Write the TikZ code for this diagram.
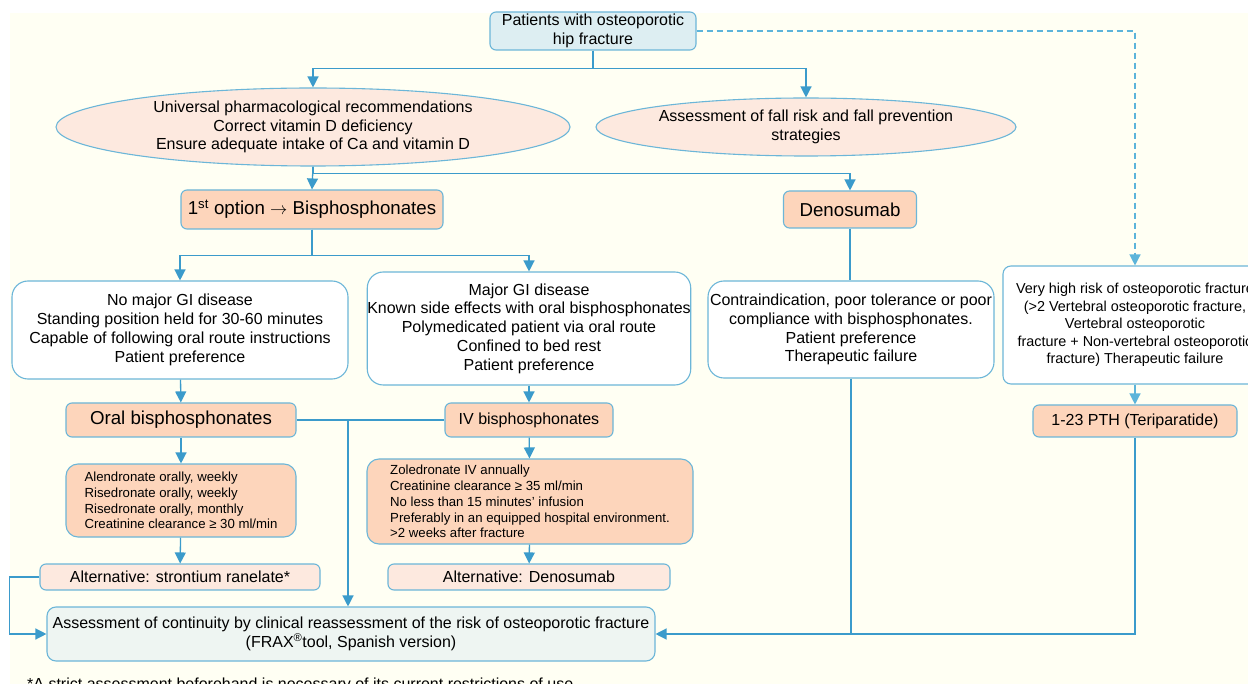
\documentclass[tikz,border=0pt]{standalone}
\usepackage{fontspec}
\setmainfont{Liberation Sans}
\usepackage{amsmath}
\usetikzlibrary{shapes.geometric,arrows.meta}

\definecolor{linkblue}{HTML}{3B9BCB}
\definecolor{edgeblue}{HTML}{6CB6D8}
\definecolor{dashblue}{HTML}{5CB4DA}
\definecolor{peach}{HTML}{FDD5BB}
\definecolor{lightpeach}{HTML}{FDE9DF}
\definecolor{paleblue}{HTML}{DDEEF2}
\definecolor{palegrey}{HTML}{EEF5F2}
\definecolor{cream}{HTML}{FFFFF3}

\newcommand{\fsnorm}{\fontsize{16}{18.8}\selectfont}
\newcommand{\fsvhr}{\fontsize{14.4}{17.5}\selectfont}
\newcommand{\fsbig}{\fontsize{18.7}{22}\selectfont}
\newcommand{\fssmall}{\fontsize{13.2}{15.8}\selectfont}

\begin{document}
\begin{tikzpicture}[x=1pt,y=-1pt,
	box/.style={draw=edgeblue,line width=1.1pt,rounded corners=6pt,align=center,inner sep=0pt,font=\fsnorm},
	condbox/.style={box,fill=white,rounded corners=16pt},
	drugbox/.style={box,fill=peach},
	altbox/.style={box,fill=lightpeach},
	oval/.style={box,shape=ellipse,fill=lightpeach},
	flow/.style={draw=linkblue,line width=1.3pt,-{Triangle[length=11pt,width=11pt]}},
	link/.style={draw=linkblue,line width=1.3pt}]

	\useasboundingbox (0,0) rectangle (1248,684);
	\fill[cream] (10,13) rectangle (1248,684);

	\node[box,fill=paleblue,minimum width=206,minimum height=38] (top) at (593, 31) {Patients with osteoporotic\\hip fracture};

	\node[oval,minimum width=514,minimum height=78] (ell1) at (313, 127) {Universal pharmacological recommendations\\Correct vitamin D deficiency\\Ensure adequate intake of Ca and vitamin D};
	\node[oval,minimum width=420,minimum height=58] (ell2) at (806, 127) {Assessment of fall risk and fall prevention\\strategies};

	\node[drugbox,font=\fsbig,minimum width=262,minimum height=39] (opt1) at (312, 209.5) {1\textsuperscript{st} option $\rightarrow$ Bisphosphonates};
	\node[drugbox,font=\fsbig,minimum width=133,minimum height=37] (deno) at (850, 209.5) {Denosumab};

	\node[condbox,minimum width=336,minimum height=98] (nogi) at (180, 330) {No major GI disease\\Standing position held for 30-60 minutes\\Capable of following oral route instructions\\Patient preference};
	\node[condbox,minimum width=321,minimum height=113] (gi) at (529, 328.5) {Major GI disease\\Known side effects with oral bisphosphonates\\Polymedicated patient via oral route\\Confined to bed rest\\Patient preference};
	\node[condbox,minimum width=286,minimum height=97] (contra) at (851, 329.5) {Contraindication, poor tolerance or poor\\compliance with bisphosphonates.\\Patient preference\\Therapeutic failure};
	\node[box,fill=white,rounded corners=8pt,font=\fsvhr,minimum width=264,minimum height=118] (vhr) at (1135, 325) {Very high risk of osteoporotic fracture\\(>2 Vertebral osteoporotic fracture,\\Vertebral osteoporotic\\fracture + Non-vertebral osteoporotic\\fracture) Therapeutic failure};
	\node[drugbox,minimum width=204,minimum height=32] (pth) at (1135, 421) {1-23 PTH (Teriparatide)};

	\node[drugbox,font=\fsbig,minimum width=230,minimum height=34] (oral) at (181, 420) {Oral bisphosphonates};
	\node[drugbox,minimum width=168,minimum height=34] (iv) at (529, 420) {IV bisphosphonates};

	\node[drugbox,font=\fssmall,align=left,rounded corners=12pt,minimum width=230,minimum height=73] (alen) at (181, 500.5) {Alendronate orally, weekly\\Risedronate orally, weekly\\Risedronate orally, monthly\\Creatinine clearance ≥ 30 ml/min};
	\node[drugbox,font=\fssmall,align=left,rounded corners=12pt,minimum width=326,minimum height=85] (zol) at (530, 501.5) {Zoledronate IV annually\\Creatinine clearance ≥ 35 ml/min\\No less than 15 minutes’ infusion\\Preferably in an equipped hospital environment.\\>2 weeks after fracture};

	\node[altbox,minimum width=280,minimum height=26] (stron) at (180, 577) {Alternative: strontium ranelate*};
	\node[altbox,minimum width=282,minimum height=26] (altd) at (529, 577) {Alternative: Denosumab};

	\node[box,fill=palegrey,rounded corners=9pt,minimum width=608,minimum height=54] (assess) at (351, 634) {Assessment of continuity by clinical reassessment of the risk of osteoporotic fracture\\(FRAX\textsuperscript{®}tool, Spanish version)};

	\node[font=\fsnorm,anchor=base west,inner sep=0pt] (note) at (27, 689) {*A strict assessment beforehand is necessary of its current restrictions of use.};

	% top of the chart
	\draw[flow] (top.south) -- ++(0,18) -| (ell1.north);
	\draw[flow] (top.south) -- ++(0,18) -| (ell2.north);
	\draw[flow,draw=dashblue,dash pattern=on 6pt off 4pt] (top.east) -| (vhr.north);
	\draw[flow] (ell1.south) -- (opt1.north);
	\draw[flow] (ell1.south) -- ++(0,7) -| (deno.north);

	% bisphosphonates branch
	\draw[flow] (opt1.south) -- ++(0,26) -| (nogi.north);
	\draw[flow] (opt1.south) -- ++(0,26) -| (gi.north);
	\draw[flow] (nogi) -- (oral);
	\draw[flow] (gi) -- (iv);
	\draw[flow] (oral) -- (alen);
	\draw[flow] (alen) -- (stron);
	\draw[flow] (iv) -- (zol);
	\draw[flow] (zol) -- (altd);
	\draw[link] (oral.east) -- (iv.west);
	\coordinate (tee) at (348, 420);
	\draw[flow] (tee) -- (tee |- assess.north);
	\draw[flow] (stron.west) -- ++(-30,0) |- (assess.west);

	% denosumab and PTH
	\draw[link] (deno.south) -- (deno.south |- contra.north);
	\draw[flow] (contra.south) |- (assess.east);
	\draw[flow,draw=dashblue] (vhr) -- (pth);
	\draw[link] (pth.south) |- (contra.south |- assess.east);

\end{tikzpicture}
\end{document}
